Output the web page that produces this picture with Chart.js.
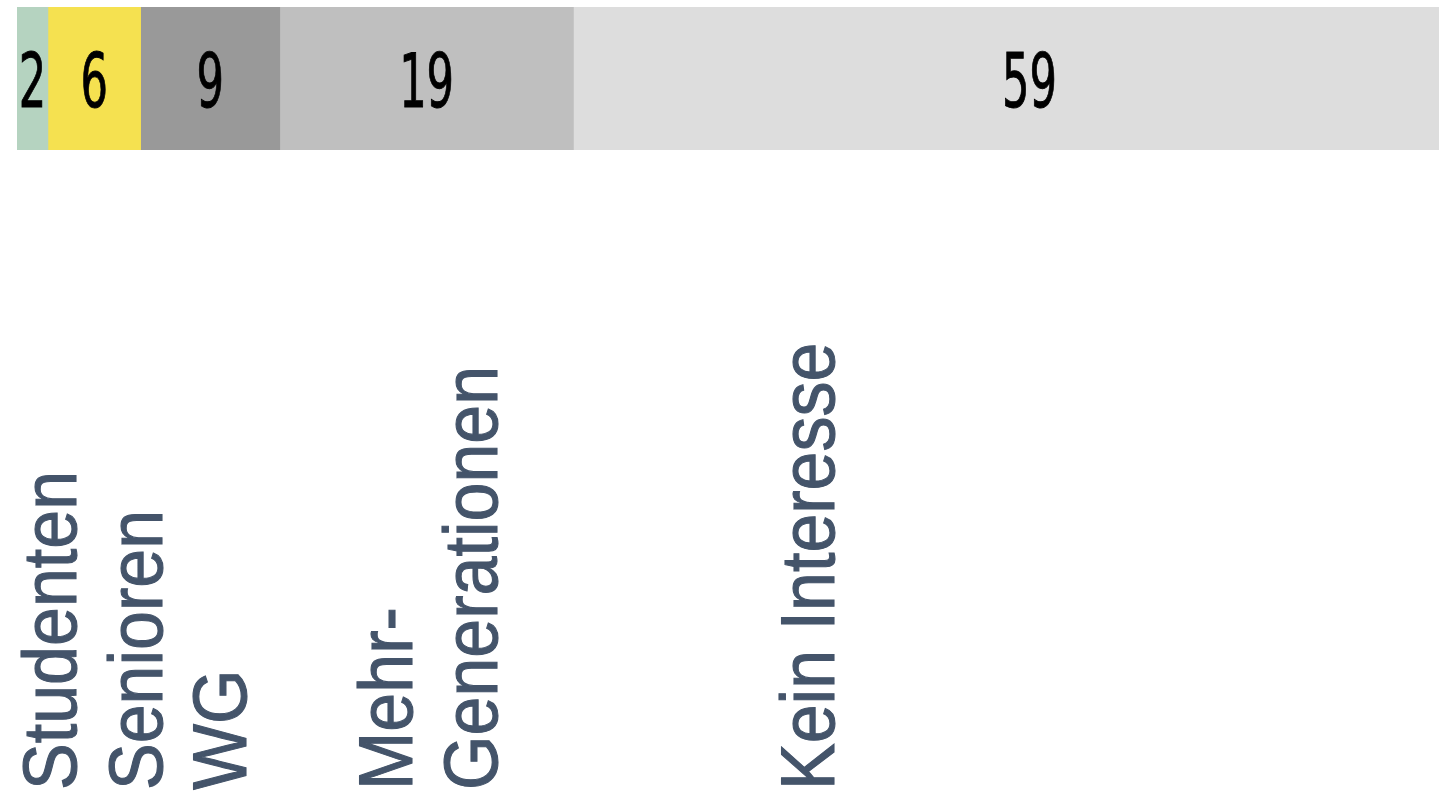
<!DOCTYPE html>
<html lang="de">
<head>
<meta charset="utf-8">
<title>Interesse an Wohnformen</title>
<script src="https://cdn.jsdelivr.net/npm/chart.js@4.4.1/dist/chart.umd.min.js"></script>
<style>
  html, body { margin: 0; padding: 0; background: #ffffff; }
  #wrap { position: relative; width: 1439px; height: 791px; }
</style>
</head>
<body>
<div id="wrap"><canvas id="chart"></canvas></div>
<script>
// Wohnform categories (in stacking order) and their shares
const categories = ['Studenten', 'Senioren', 'WG', 'Mehr-\nGenerationen', 'Kein Interesse'];
const values = [2, 6, 9, 19, 59];
const segmentColors = ['#b5d3c0', '#f5e150', '#999999', '#bfbfbf', '#dddddd'];

// Screen position (x of the text baseline) for each line of the rotated category names
const nameBaselines = [[76], [162], [246], [412, 497], [834]];

const datasets = categories.map((name, i) => ({
  label: name,
  data: [values[i]],
  backgroundColor: segmentColors[i],
  borderWidth: 0,
  barPercentage: 1,
  categoryPercentage: 1
}));

// Value inside each segment, in a tall narrow face
const segmentValues = {
  id: 'segmentValues',
  afterDatasetsDraw(chart) {
    const ctx = chart.ctx;
    chart.data.datasets.forEach((ds, i) => {
      const el = chart.getDatasetMeta(i).data[0];
      const cx = (el.x + el.base) / 2;
      const cy = el.y + 9;
      ctx.save();
      ctx.translate(cx, cy);
      ctx.scale(1, 1.55);
      ctx.font = '48px "Liberation Sans Narrow", "DejaVu Sans Condensed", "Liberation Sans", sans-serif';
      ctx.fillStyle = '#000000';
      ctx.strokeStyle = '#000000';
      ctx.lineWidth = 0.6;
      ctx.textAlign = 'center';
      ctx.textBaseline = 'middle';
      ctx.fillText(String(ds.data[0]), 0, 0);
      ctx.strokeText(String(ds.data[0]), 0, 0);
      ctx.restore();
    });
  }
};

// Rotated category names below the bar
const categoryNames = {
  id: 'categoryNames',
  afterDraw(chart) {
    const ctx = chart.ctx;
    chart.data.datasets.forEach((ds, i) => {
      const lines = ds.label.split('\n');
      lines.forEach((line, j) => {
        ctx.save();
        ctx.translate(nameBaselines[i][j], 790);
        ctx.rotate(-Math.PI / 2);
        ctx.scale(1, 1.08);
        ctx.font = '70px "Liberation Sans", Arial, sans-serif';
        ctx.fillStyle = '#44546a';
        ctx.strokeStyle = '#44546a';
        ctx.lineWidth = 1;
        ctx.textAlign = 'left';
        ctx.textBaseline = 'alphabetic';
        ctx.fillText(line, 0, 0);
        ctx.strokeText(line, 0, 0);
        ctx.restore();
      });
    });
  }
};

new Chart(document.getElementById('chart'), {
  type: 'bar',
  data: { labels: [''], datasets },
  options: {
    indexAxis: 'y',
    responsive: true,
    maintainAspectRatio: false,
    animation: false,
    layout: { padding: { top: 7, left: 17, right: 0, bottom: 641 } },
    scales: {
      x: { stacked: true, min: 0, max: 92, display: false },
      y: { stacked: true, display: false }
    },
    plugins: {
      legend: { display: false },
      tooltip: { enabled: false }
    }
  },
  plugins: [segmentValues, categoryNames]
});
</script>
</body>
</html>
